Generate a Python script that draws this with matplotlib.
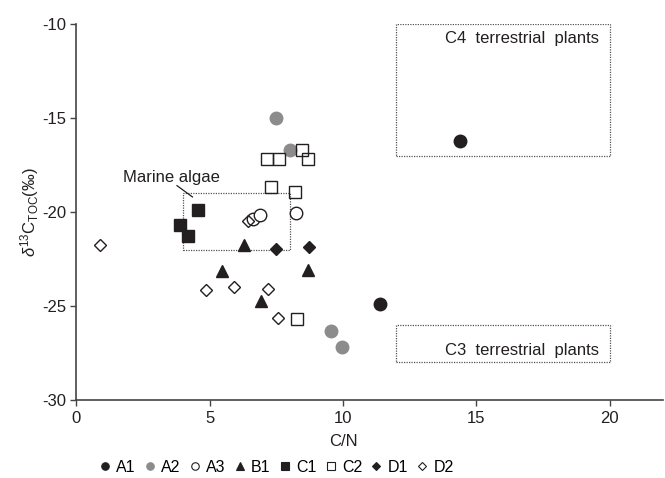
import matplotlib.pyplot as plt
from matplotlib.patches import Rectangle

plt.rcParams['font.family'] = ['Liberation Sans', 'DejaVu Sans']
plt.rcParams['mathtext.fontset'] = 'custom'
plt.rcParams['mathtext.rm'] = 'Liberation Sans'
plt.rcParams['mathtext.it'] = 'Liberation Sans:italic'
plt.rcParams['axes.unicode_minus'] = False

# C/N ratio and d13C(TOC) per site
a1_cn = [14.4, 11.4]
a1_d13c = [-16.2, -24.9]
a2_cn = [7.5, 8.0, 9.55, 9.95]
a2_d13c = [-15.0, -16.7, -26.35, -27.2]
a3_cn = [6.62, 6.9, 8.25]
a3_d13c = [-20.35, -20.15, -20.05]
b1_cn = [6.3, 5.45, 8.7, 6.92]
b1_d13c = [-21.75, -23.15, -23.1, -24.75]
c1_cn = [4.57, 3.9, 4.2]
c1_d13c = [-19.9, -20.7, -21.25]
c2_cn = [7.15, 7.58, 8.47, 8.7, 7.28, 8.2, 8.27]
c2_d13c = [-17.2, -17.2, -16.7, -17.2, -18.65, -18.95, -25.7]
d1_cn = [7.47, 8.73]
d1_d13c = [-21.95, -21.85]
d2_cn = [0.88, 6.45, 4.84, 5.9, 7.2, 7.57]
d2_d13c = [-21.75, -20.5, -24.15, -24.0, -24.1, -25.65]

# source end-member boxes: (x0, x1, y0, y1)
marine_box = (4, 8, -22, -19)
c4_box = (12, 20, -17, -10)
c3_box = (12, 20, -28, -26)

dark = '#231f20'
grey = '#8c8c8c'

fig = plt.figure(figsize=(6.65, 4.78), dpi=100)
ax = fig.add_axes([0.115, 0.163, 0.882, 0.787])

series = [
    ('A1', a1_cn, a1_d13c, 'o', dark, dark, 9),
    ('A2', a2_cn, a2_d13c, 'o', grey, grey, 9),
    ('A3', a3_cn, a3_d13c, 'o', 'white', dark, 9),
    ('B1', b1_cn, b1_d13c, '^', dark, dark, 9),
    ('C1', c1_cn, c1_d13c, 's', dark, dark, 8.5),
    ('C2', c2_cn, c2_d13c, 's', 'none', dark, 8.5),
    ('D1', d1_cn, d1_d13c, 'D', dark, dark, 6.5),
    ('D2', d2_cn, d2_d13c, 'D', 'none', dark, 6.5),
]
handles = []
for name, xs, ys, m, fc, ec, ms in series:
    ax.plot(xs, ys, ls='none', marker=m, ms=ms, mfc=fc, mec=ec, mew=1.0)
    h, = ax.plot([], [], ls='none', marker=m, ms=ms * 0.6, mfc=fc, mec=ec,
                 mew=0.8, label=name)
    handles.append(h)

for x0, x1, y0, y1 in (marine_box, c4_box, c3_box):
    ax.add_patch(Rectangle((x0, y0), x1 - x0, y1 - y0, fill=False,
                           ls=(0, (1, 1)), lw=0.9, ec='#555555'))

ax.text(19.6, -10.75, 'C4  terrestrial  plants', ha='right', va='center',
        fontsize=12, color=dark)
ax.text(19.6, -27.35, 'C3  terrestrial  plants', ha='right', va='center',
        fontsize=12, color=dark)
ax.text(3.55, -18.15, 'Marine algae', ha='center', va='center',
        fontsize=12, color=dark)
ax.plot([3.77, 4.35], [-18.6, -19.2], color=dark, lw=0.9)

ax.set_xlim(0, 22)
ax.set_ylim(-30, -10)
ax.set_xticks([0, 5, 10, 15, 20])
ax.set_yticks([-30, -25, -20, -15, -10])
for side in ('top', 'right'):
    ax.spines[side].set_visible(False)
for side in ('left', 'bottom'):
    ax.spines[side].set_color('#444444')
    ax.spines[side].set_linewidth(1.2)
ax.tick_params(direction='out', length=4, width=1, color='#444444',
               labelsize=12, labelcolor=dark)

ax.set_xlabel('C/N', fontsize=12, color=dark)
ax.xaxis.set_label_coords(10 / 22, -0.09)
ax.set_ylabel(r'$\delta^{13}$C$_{\mathrm{TOC}}$(‰)', fontsize=12,
              color=dark, labelpad=1)

fig.legend(handles=handles, loc='center', bbox_to_anchor=(0.415, 0.023),
           ncol=8, frameon=False, fontsize=11.5, handlelength=0.8,
           handletextpad=0.3, columnspacing=0.5, borderpad=0)

fig.savefig('out.png', dpi=100)
